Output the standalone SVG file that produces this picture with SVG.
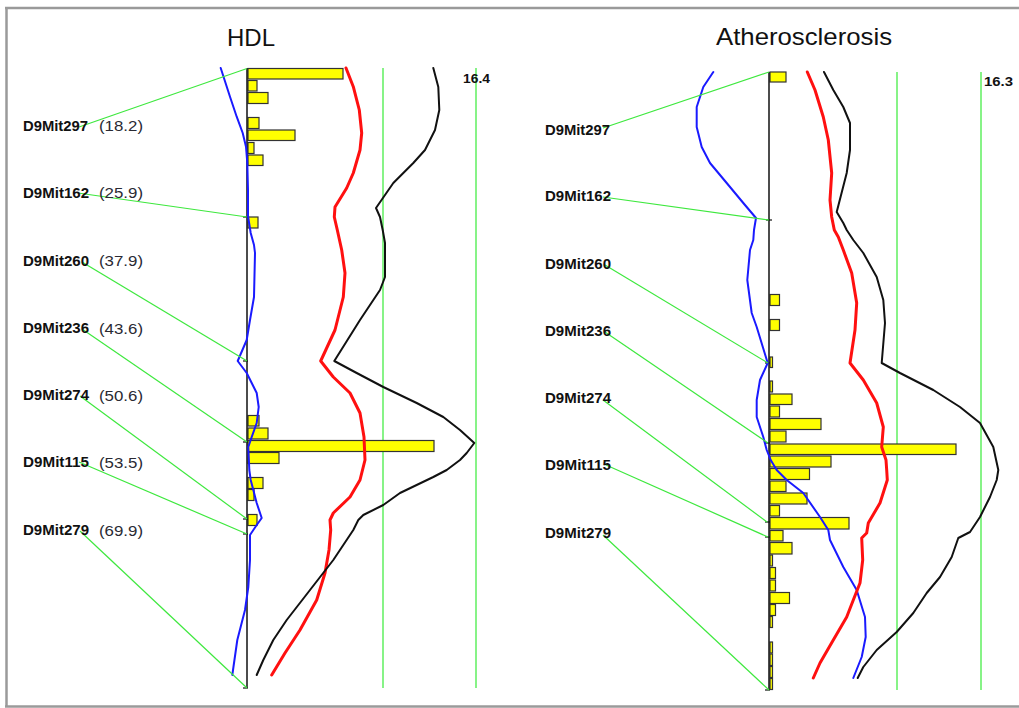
<svg xmlns="http://www.w3.org/2000/svg" width="1019" height="708" viewBox="0 0 1019 708">
<style>
.bg{fill:#fff}
.frame{stroke:#9a9a9a;stroke-width:2.5;fill:none}
.title{font-family:"Liberation Sans",Arial,sans-serif;font-size:24px;fill:#111}
.mk{font-family:"Liberation Sans",Arial,sans-serif;font-size:14px;font-weight:bold;fill:#111}
.val{font-family:"Liberation Sans",Arial,sans-serif;font-size:15.5px;fill:#2a2a33}
.num{font-family:"Liberation Sans",Arial,sans-serif;font-size:12px;font-weight:bold;fill:#111}
.axis{stroke:#111;stroke-width:1.5;fill:none}
.tick{stroke:#111;stroke-width:1.2}
.thr{stroke:#5fef5f;stroke-width:1.5;fill:none}
.bar{fill:#ffff00;stroke:#333;stroke-width:1.2}
.blue{stroke:#1a1aff;stroke-width:2;fill:none;stroke-linejoin:round;stroke-linecap:round}
.red{stroke:#ff1010;stroke-width:3;fill:none;stroke-linejoin:round;stroke-linecap:round}
.black{stroke:#111;stroke-width:2;fill:none;stroke-linejoin:round;stroke-linecap:round}
.conn{stroke:#3ee83e;stroke-width:1.2;fill:none}
</style>
<rect class="bg" x="0" y="0" width="1019" height="708"/>
<g id="frame">
<line class="frame" x1="5" y1="8" x2="1019" y2="8"/>
<line class="frame" x1="6.5" y1="8" x2="6.5" y2="707"/>
<line class="frame" x1="5" y1="706.5" x2="1019" y2="706.5"/>
</g>

<g id="panel-hdl">
<text class="title" x="227" y="46">HDL</text>
<line class="thr" x1="383" y1="68" x2="383" y2="688"/>
<line class="thr" x1="476" y1="68" x2="476" y2="688"/>
<text class="num" x="463" y="83" textLength="27" lengthAdjust="spacingAndGlyphs">16.4</text>
<g id="hdl-bars">
<rect class="bar" x="248" y="68.5" width="95" height="10.5"/>
<rect class="bar" x="248" y="80.5" width="9" height="10.5"/>
<rect class="bar" x="248" y="92.5" width="20" height="11"/>
<rect class="bar" x="248" y="117.5" width="11" height="11"/>
<rect class="bar" x="248" y="130" width="47" height="10.5"/>
<rect class="bar" x="248" y="142.5" width="6" height="11"/>
<rect class="bar" x="248" y="155" width="15" height="10.5"/>
<rect class="bar" x="248" y="217" width="10" height="11"/>
<rect class="bar" x="248" y="415.5" width="11" height="10.5"/>
<rect class="bar" x="248" y="428" width="20" height="11"/>
<rect class="bar" x="248" y="440.5" width="186" height="11"/>
<rect class="bar" x="248" y="452.5" width="31" height="11"/>
<rect class="bar" x="248" y="477.5" width="15" height="11"/>
<rect class="bar" x="248" y="489.5" width="6" height="11"/>
<rect class="bar" x="248" y="514.5" width="9" height="11"/>
</g>
<line class="axis" x1="247" y1="68" x2="247" y2="688"/>
<g id="hdl-ticks">
<line class="tick" x1="243" y1="217" x2="248" y2="217"/>
<line class="tick" x1="243" y1="361" x2="248" y2="361"/>
<line class="tick" x1="243" y1="442" x2="248" y2="442"/>
<line class="tick" x1="243" y1="519" x2="248" y2="519"/>
<line class="tick" x1="243" y1="534" x2="248" y2="534"/>
<line class="tick" x1="243" y1="688" x2="248" y2="688"/>
</g>
<path class="blue" d="M220.7,68 L230,96.7 L236.7,116.7 L242.7,133 L246,146.7 L247.3,163 L248,190 L248,216 L250.7,233 L254,245 L255,253 L254,297 L250,320 L246.7,340 L237.7,361 L246.7,373 L256.7,393 L258.7,407 L256.7,423 L251.7,437 L248.3,447 L249.3,470 L250.7,480 L256.7,503 L261.7,518 L256.7,525 L250,535 L250,560 L248.3,587 L245,610 L237.3,640 L232.3,675"/>
<path class="red" d="M346,68 L353.3,86.7 L359.3,110 L361.7,133 L360,150 L353.3,173 L346.7,188 L335,207 L334.3,217 L337.3,230 L341.7,250 L345,273 L343.3,297 L335,330 L320.7,361 L333.3,377 L350,393 L360,413 L364,437 L365,460 L360,480 L350,497 L333.3,513 L330,520 L330.7,530 L329,550 L325,573 L316.7,600 L300,630 L285,653 L271.7,675"/>
<path class="black" d="M433.3,68 L438.3,87 L439.3,110 L435,130 L425,150 L413.3,163 L393.3,183 L376,208 L380,217 L382.7,230 L385,243 L385,277 L380,290 L360,320 L334.3,361 L356.7,373 L383.3,387 L416.7,403 L443.3,417 L460,430 L474.3,443 L466.7,453 L460,460 L446.7,470 L433.3,477 L400,493 L383.3,505 L363.3,515 L358.3,520 L353.3,530 L333.3,560 L310,590 L286.7,620 L273.3,640 L263.3,660 L256.7,675"/>
</g>

<g id="panel-athero">
<text class="title" x="804" y="45" text-anchor="middle" textLength="176" lengthAdjust="spacingAndGlyphs">Atherosclerosis</text>
<line class="thr" x1="897" y1="72" x2="897" y2="690"/>
<line class="thr" x1="981" y1="72" x2="981" y2="690"/>
<text class="num" x="984" y="86" textLength="29" lengthAdjust="spacingAndGlyphs">16.3</text>
<g id="athero-bars">
<rect class="bar" x="770" y="72" width="16" height="10"/>
<rect class="bar" x="770" y="294.5" width="9.5" height="11"/>
<rect class="bar" x="770" y="319.5" width="9.5" height="11"/>
<rect class="bar" x="770" y="357" width="2.5" height="10.5"/>
<rect class="bar" x="770" y="381" width="2.5" height="11"/>
<rect class="bar" x="770" y="394" width="22" height="10.5"/>
<rect class="bar" x="770" y="406" width="9.5" height="11"/>
<rect class="bar" x="770" y="418.5" width="51" height="11"/>
<rect class="bar" x="770" y="431" width="16" height="11"/>
<rect class="bar" x="770" y="444" width="186" height="10.5"/>
<rect class="bar" x="770" y="456" width="61" height="11"/>
<rect class="bar" x="770" y="468.5" width="39.5" height="11"/>
<rect class="bar" x="770" y="481" width="16" height="10.5"/>
<rect class="bar" x="770" y="493" width="37" height="11"/>
<rect class="bar" x="770" y="505.5" width="9.5" height="10.5"/>
<rect class="bar" x="770" y="517.5" width="79" height="11.5"/>
<rect class="bar" x="770" y="530.5" width="13" height="10.5"/>
<rect class="bar" x="770" y="542.5" width="22" height="11.5"/>
<rect class="bar" x="770" y="555" width="2.5" height="11"/>
<rect class="bar" x="770" y="567.5" width="5.5" height="11"/>
<rect class="bar" x="770" y="580" width="5.5" height="11"/>
<rect class="bar" x="770" y="592.5" width="19.5" height="11"/>
<rect class="bar" x="770" y="604.5" width="5.5" height="11"/>
<rect class="bar" x="770" y="616.5" width="2.5" height="11"/>
<rect class="bar" x="770" y="642" width="2.5" height="11"/>
<rect class="bar" x="770" y="654" width="2.5" height="11.5"/>
<rect class="bar" x="770" y="666.5" width="2.5" height="11"/>
<rect class="bar" x="770" y="678.5" width="2.5" height="11"/>
</g>
<line class="axis" x1="769" y1="72" x2="769" y2="690"/>
<g id="athero-ticks">
<line class="tick" x1="766" y1="220" x2="772" y2="220"/>
<line class="tick" x1="765" y1="363" x2="770" y2="363"/>
<line class="tick" x1="765" y1="443" x2="770" y2="443"/>
<line class="tick" x1="765" y1="522" x2="770" y2="522"/>
<line class="tick" x1="765" y1="537" x2="770" y2="537"/>
<line class="tick" x1="765" y1="690" x2="770" y2="690"/>
</g>
<path class="blue" d="M713.3,72 L703.3,87 L696.7,107 L696.7,127 L701.7,147 L710,163 L726.7,183 L743.3,203 L756,218 L754,230 L753.3,240 L750,250 L747.3,280 L751.7,313 L756.7,327 L767.7,363 L760,380 L756.7,400 L756.7,417 L763.3,437 L766.7,450 L770.7,460 L776.7,470 L786.7,480 L803.3,493 L820,517 L828.3,530 L830,540 L843.3,567 L856.7,590 L865,617 L865.7,637 L861.7,657 L853.3,678"/>
<path class="red" d="M807.3,72 L815,90 L823.3,117 L828.3,140 L831.7,173 L830,200 L831.7,217 L834.3,230 L838.3,237 L843.3,250 L851.7,273 L856.7,303 L855,330 L850,363 L863.3,380 L876.7,403 L883.3,427 L881.7,447 L886,460 L886.7,470 L887.3,480 L880,503 L868.3,523 L866.7,533 L861.7,538 L862.7,560 L860,583 L853.3,600 L846.7,617 L833.3,640 L820,663 L813.3,678"/>
<path class="black" d="M824,72 L833.3,90 L843.3,107 L850,123 L850,150 L846.7,173 L836.7,212 L843.3,223 L846.7,230 L853.3,240 L863.3,253 L876.7,277 L883.3,300 L885,323 L881.7,363 L900,373 L933.3,390 L960,407 L980,423 L993.3,447 L998.3,470 L996.7,480 L990,497 L980,517 L970,532 L958.3,538 L951.7,557 L940,577 L926.7,593 L913.3,613 L896.7,632 L876.7,650 L863.3,667 L857.7,678"/>
</g>

<g id="connectors">
<line class="conn" x1="79" y1="127" x2="247" y2="68.5"/>
<line class="conn" x1="78" y1="193" x2="247" y2="217"/>
<line class="conn" x1="82" y1="262" x2="247" y2="361"/>
<line class="conn" x1="82" y1="329" x2="247" y2="442"/>
<line class="conn" x1="80" y1="396" x2="247" y2="519"/>
<line class="conn" x1="79" y1="462" x2="247" y2="534"/>
<line class="conn" x1="80" y1="531" x2="247" y2="688"/>
<line class="conn" x1="603" y1="128" x2="769" y2="72"/>
<line class="conn" x1="603" y1="197" x2="769" y2="220"/>
<line class="conn" x1="605" y1="265" x2="768" y2="363"/>
<line class="conn" x1="605" y1="332" x2="768" y2="443"/>
<line class="conn" x1="603" y1="400" x2="767" y2="522"/>
<line class="conn" x1="606" y1="465" x2="768" y2="537"/>
<line class="conn" x1="603" y1="535" x2="769" y2="690"/>
</g>

<g id="hdl-D9Mit297"><text class="mk" x="23" y="130.5" textLength="65" lengthAdjust="spacingAndGlyphs">D9Mit297</text><text class="val" x="99" y="131" textLength="44" lengthAdjust="spacingAndGlyphs">(18.2)</text></g>
<g id="hdl-D9Mit162"><text class="mk" x="23" y="197.5" textLength="66" lengthAdjust="spacingAndGlyphs">D9Mit162</text><text class="val" x="99" y="198" textLength="44" lengthAdjust="spacingAndGlyphs">(25.9)</text></g>
<g id="hdl-D9Mit260"><text class="mk" x="23" y="265.5" textLength="66" lengthAdjust="spacingAndGlyphs">D9Mit260</text><text class="val" x="99" y="266" textLength="44" lengthAdjust="spacingAndGlyphs">(37.9)</text></g>
<g id="hdl-D9Mit236"><text class="mk" x="23" y="333" textLength="66" lengthAdjust="spacingAndGlyphs">D9Mit236</text><text class="val" x="99" y="333.5" textLength="44" lengthAdjust="spacingAndGlyphs">(43.6)</text></g>
<g id="hdl-D9Mit274"><text class="mk" x="23" y="400" textLength="66" lengthAdjust="spacingAndGlyphs">D9Mit274</text><text class="val" x="99" y="400.5" textLength="44" lengthAdjust="spacingAndGlyphs">(50.6)</text></g>
<g id="hdl-D9Mit115"><text class="mk" x="23" y="467" textLength="66" lengthAdjust="spacingAndGlyphs">D9Mit115</text><text class="val" x="99" y="467.5" textLength="44" lengthAdjust="spacingAndGlyphs">(53.5)</text></g>
<g id="hdl-D9Mit279"><text class="mk" x="23" y="535" textLength="66" lengthAdjust="spacingAndGlyphs">D9Mit279</text><text class="val" x="99" y="535.5" textLength="44" lengthAdjust="spacingAndGlyphs">(69.9)</text></g>

<g id="ath-D9Mit297"><text class="mk" x="545" y="134.5" textLength="65" lengthAdjust="spacingAndGlyphs">D9Mit297</text></g>
<g id="ath-D9Mit162"><text class="mk" x="545" y="201" textLength="66" lengthAdjust="spacingAndGlyphs">D9Mit162</text></g>
<g id="ath-D9Mit260"><text class="mk" x="545" y="268.5" textLength="66" lengthAdjust="spacingAndGlyphs">D9Mit260</text></g>
<g id="ath-D9Mit236"><text class="mk" x="545" y="336" textLength="66" lengthAdjust="spacingAndGlyphs">D9Mit236</text></g>
<g id="ath-D9Mit274"><text class="mk" x="545" y="403" textLength="66" lengthAdjust="spacingAndGlyphs">D9Mit274</text></g>
<g id="ath-D9Mit115"><text class="mk" x="545" y="470" textLength="66" lengthAdjust="spacingAndGlyphs">D9Mit115</text></g>
<g id="ath-D9Mit279"><text class="mk" x="545" y="537.5" textLength="66" lengthAdjust="spacingAndGlyphs">D9Mit279</text></g>
</svg>
